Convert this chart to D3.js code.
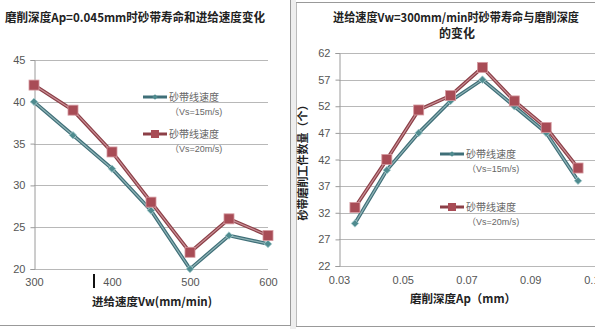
<!DOCTYPE html>
<html><head><meta charset="utf-8">
<script src="https://cdn.jsdelivr.net/npm/d3@7/dist/d3.min.js"></script>
<style>
body{margin:0;background:#fff;}
svg text{font-family:"Liberation Sans","Noto Sans CJK SC",sans-serif;}
.cjk{font-family:"Noto Sans CJK SC","Liberation Sans",sans-serif !important;}
</style></head>
<body>
<svg id="c" width="595" height="329"></svg>
<script>
// ---- data ----
const leftX = [300, 350, 400, 450, 500, 550, 600];
const leftVs15 = [40, 36, 32, 27, 20, 24, 23];
const leftVs20 = [42, 39, 34, 28, 22, 26, 24];
const leftXTicks = [300, 400, 500, 600];
const leftYTicks = [20, 25, 30, 35, 40, 45];

const rightX = [0.035, 0.045, 0.055, 0.065, 0.075, 0.085, 0.095, 0.105];
const rightVs15 = [30, 40, 47, 53, 57, 52, 47, 38];
const rightVs20 = [33, 42, 51.3, 54, 59.3, 53, 48, 40.4];
const rightXTicks = [0.03, 0.05, 0.07, 0.09, 0.11];
const rightYTicks = [22, 27, 32, 37, 42, 47, 52, 57, 62];

const leftTitle = "磨削深度Ap=0.045mm时砂带寿命和进给速度变化";
const leftXTitle = "进给速度Vw(mm/min)";
const rightTitle1 = "进给速度Vw=300mm/min时砂带寿命与磨削深度";
const rightTitle2 = "的变化";
const rightXTitle = "磨削深度Ap（mm）";
const rightYTitle = "砂带磨削工件数量（个）";
const legendMain = "砂带线速度";
const legendSub = ["（Vs=15m/s)", "（Vs=20m/s)"];

const svg = d3.select("#c");
const C15 = {line:"#3f6f78", inner:"#8fb3b6", mark:"#4f8b8f"};
const C20 = {line:"#8c3f47", inner:"#c99097", mark:"#a84c56"};

// panel borders
svg.append("rect").attr("x",290).attr("y",0).attr("width",6).attr("height",329).attr("fill","#eeeeee");
svg.append("line").attr("x1",290.5).attr("x2",290.5).attr("y1",0).attr("y2",326).attr("stroke","#999");
svg.append("line").attr("x1",0).attr("x2",291).attr("y1",325.5).attr("y2",325.5).attr("stroke","#999");
svg.append("line").attr("x1",296.5).attr("x2",296.5).attr("y1",2).attr("y2",327).attr("stroke","#bbb");
svg.append("line").attr("x1",296).attr("x2",595).attr("y1",2.5).attr("y2",2.5).attr("stroke","#999");
svg.append("line").attr("x1",296).attr("x2",595).attr("y1",326.5).attr("y2",326.5).attr("stroke","#999");

function drawChart(o){
  const g = svg.append("g");
  const x = d3.scaleLinear().domain(o.xd).range(o.xr);
  const y = d3.scaleLinear().domain(o.yd).range(o.yr);
  // gridlines
  g.selectAll(".gl").data(o.yTicks).join("line")
    .attr("x1",o.xr[0]).attr("x2",o.gridEnd)
    .attr("y1",d=>Math.round(y(d))+0.5).attr("y2",d=>Math.round(y(d))+0.5)
    .attr("stroke","#b8b8b8").attr("stroke-width",1);
  // y axis
  const ya = d3.axisLeft(y).tickValues(o.yTicks).tickSize(4).tickPadding(5).tickFormat(d3.format("d"));
  const yg = g.append("g").attr("transform",`translate(${o.xr[0]+0.5},0)`).call(ya);
  yg.select(".domain").attr("stroke","#9a9a9a");
  yg.selectAll(".tick line").attr("stroke","#9a9a9a");
  yg.selectAll("text").attr("fill","#555").attr("font-size",11);
  // x axis
  const xa = d3.axisBottom(x).tickValues(o.xTicks).tickSize(0).tickPadding(o.xPad).tickFormat(o.xFmt);
  const xg = g.append("g").attr("transform",`translate(0,${o.yr[0]})`).call(xa);
  xg.select(".domain").remove();
  xg.selectAll("text").attr("fill","#555").attr("font-size",11);
  // series
  const line = d3.line().x((d,i)=>x(o.xs[i])).y(d=>y(d));
  [[o.s15,C15],[o.s20,C20]].forEach(([s,c])=>{
    g.append("path").datum(s).attr("d",line).attr("fill","none").attr("stroke",c.line).attr("stroke-width",3.6).attr("stroke-linejoin","round");
    g.append("path").datum(s).attr("d",line).attr("fill","none").attr("stroke",c.inner).attr("stroke-width",1.2).attr("stroke-linejoin","round");
  });
  g.selectAll(".m15").data(o.s15).join("path")
    .attr("transform",(d,i)=>`translate(${x(o.xs[i])},${y(d)})`)
    .attr("d",d3.symbol(d3.symbolDiamond2,36)).attr("fill",C15.mark).attr("stroke","#a9cfd0").attr("stroke-width",0.8);
  g.selectAll(".m20").data(o.s20).join("rect")
    .attr("x",(d,i)=>x(o.xs[i])-5).attr("y",d=>y(d)-5).attr("width",10).attr("height",10)
    .attr("fill",C20.mark).attr("stroke","#d59aa0").attr("stroke-width",0.8);
  // legend
  o.leg.forEach((p,i)=>{
    const c = i===0?C15:C20;
    g.append("line").attr("x1",p[0]).attr("x2",p[0]+24).attr("y1",p[1]).attr("y2",p[1]).attr("stroke",c.line).attr("stroke-width",3);
    if(i===0) g.append("path").attr("transform",`translate(${p[0]+12},${p[1]})`).attr("d",d3.symbol(d3.symbolDiamond2,20)).attr("fill",C15.mark);
    else g.append("rect").attr("x",p[0]+8).attr("y",p[1]-4).attr("width",8).attr("height",8).attr("fill",C20.mark);
    g.append("text").attr("class","cjk").attr("x",p[0]+26).attr("y",p[1]+4).attr("font-size",10).attr("fill","#666").text(legendMain);
    g.append("text").attr("x",p[0]+27).attr("y",p[1]+18).attr("font-size",9).attr("fill","#666").text(legendSub[i]);
  });
  return g;
}

const gl = drawChart({
  xd:[300,600], xr:[34,268], yd:[20,45], yr:[269,60],
  xs:leftX, s15:leftVs15, s20:leftVs20,
  xTicks:leftXTicks, yTicks:leftYTicks, gridEnd:268, xPad:9, xFmt:d3.format("d"),
  leg:[[143,97],[143,134]]
});
const gr = drawChart({
  xd:[0.03,0.11], xr:[339,594], yd:[22,62], yr:[266,53],
  xs:rightX, s15:rightVs15, s20:rightVs20,
  xTicks:rightXTicks, yTicks:rightYTicks, gridEnd:595, xPad:10, xFmt:d=>d3.format(".2f")(d),
  leg:[[440,154],[440,207]]
});

// titles
svg.append("text").attr("class","cjk").attr("x",5).attr("y",22).attr("font-size",12).attr("font-weight","bold").attr("fill","#222")
  .attr("textLength",260).attr("lengthAdjust","spacingAndGlyphs").text(leftTitle);
svg.append("text").attr("class","cjk").attr("x",152).attr("y",306).attr("text-anchor","middle").attr("font-size",11.5).attr("font-weight","bold").attr("fill","#222").text(leftXTitle);
svg.append("text").attr("class","cjk").attr("x",456).attr("y",22).attr("text-anchor","middle").attr("font-size",12).attr("font-weight","bold").attr("fill","#222")
  .attr("textLength",246).attr("lengthAdjust","spacingAndGlyphs").text(rightTitle1);
svg.append("text").attr("class","cjk").attr("x",457).attr("y",38).attr("text-anchor","middle").attr("font-size",12).attr("font-weight","bold").attr("fill","#222").text(rightTitle2);
svg.append("text").attr("class","cjk").attr("x",463).attr("y",303).attr("text-anchor","middle").attr("font-size",11.5).attr("font-weight","bold").attr("fill","#222").text(rightXTitle);
svg.append("text").attr("class","cjk").attr("transform","translate(307,160) rotate(-90)").attr("text-anchor","middle").attr("font-size",11).attr("font-weight","bold").attr("fill","#222").text(rightYTitle);
// stray cursor mark in source image
svg.append("line").attr("x1",94).attr("x2",94).attr("y1",274).attr("y2",288).attr("stroke","#111").attr("stroke-width",2);
</script>
</body></html>
